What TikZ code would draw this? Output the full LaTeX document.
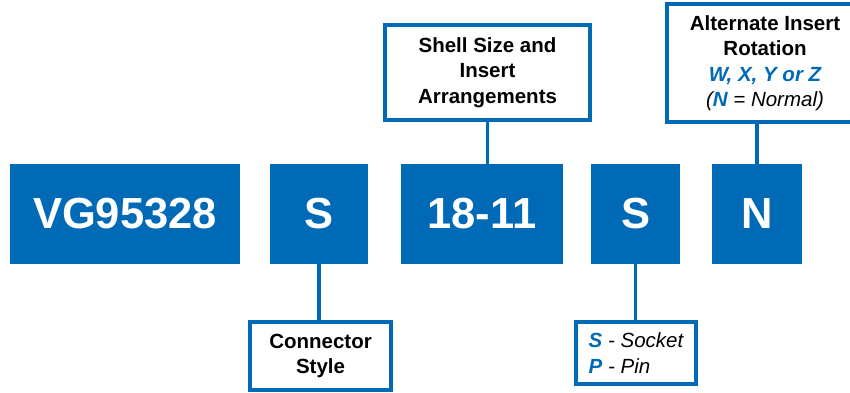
\documentclass[tikz,border=0pt]{standalone}
\usepackage{fontspec}
\setmainfont{Liberation Sans}
\definecolor{vgblue}{RGB}{0,106,182}
\begin{document}
\begin{tikzpicture}[x=1pt,y=-1pt,
  bigbox/.style={fill=vgblue, draw=none, text=white, inner sep=0pt,
    font=\fontsize{43.5}{50}\selectfont\bfseries, minimum height=100pt},
  labelbox/.style={draw=vgblue, line width=3.5pt, fill=white, align=center, inner sep=0pt,
    font=\fontsize{20.5}{25.5}\selectfont\bfseries},
  link/.style={draw=vgblue, line width=3.5pt}]
\clip (0,0) rectangle (850,392);
\fill[white] (0,0) rectangle (850,392);
% main code boxes
\node[bigbox, minimum width=230pt] (b1) at (125,214) {VG95328};
\node[bigbox, minimum width=98pt] (b2) at (319,214) {S};
\node[bigbox, minimum width=162pt] (b3) at (482,214) {18-11};
\node[bigbox, minimum width=89pt] (b4) at (635.5,214) {S};
\node[bigbox, minimum width=90pt] (b5) at (757,214) {N};
% label boxes
\node[labelbox, minimum width=205pt, minimum height=95pt] (shell) at (487.5,72.5)
  {Shell Size and\\Insert\\Arrangements};
\node[labelbox, minimum width=196pt, minimum height=118pt] (alt) at (765,63)
  {Alternate Insert\\Rotation\\\textcolor{vgblue}{\itshape W, X, Y or Z}\\
   {\mdseries\itshape (\textcolor{vgblue}{\bfseries N} = Normal)}};
\node[labelbox, minimum width=141pt, minimum height=68pt] (style) at (320.5,356)
  {Connector\\Style};
\node[labelbox, align=left, minimum width=120pt, minimum height=62pt] (sock) at (636,353)
  {\textcolor{vgblue}{\itshape S}{\mdseries\itshape\ - Socket}\\
   \textcolor{vgblue}{\itshape P}{\mdseries\itshape\ - Pin}};
% connectors
\draw[link] (shell.south) -- (shell.south |- b3.north);
\draw[link] (alt.south -| b5.north) -- (b5.north);
\draw[link] (b2.south) -- (b2.south |- style.north);
\draw[link] (b4.south) -- (b4.south |- sock.north);
\end{tikzpicture}
\end{document}
